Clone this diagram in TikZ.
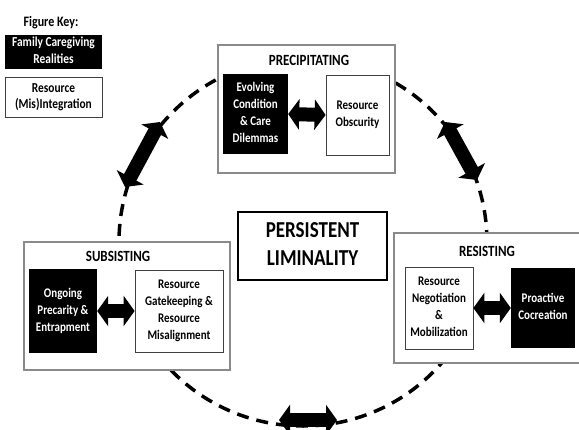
\documentclass[tikz,border=0pt]{standalone}
\usepackage{fontspec}
\setmainfont{Carlito}
\usepackage{graphicx}
\usetikzlibrary{arrows.meta}
\definecolor{framegray}{HTML}{8A8A8A}
\newcommand{\vst}[1]{\scalebox{1}[1.2]{\begin{tabular}{@{}c@{}}#1\end{tabular}}}
\begin{document}
\begin{tikzpicture}[x=1pt,y=-1pt,
  outerbox/.style={draw=framegray, line width=2pt, fill=white, inner sep=0pt},
  darkbox/.style={fill=black, text=white, inner sep=0pt, font=\fontsize{11}{14.2}\selectfont\bfseries},
  lightbox/.style={draw=black!75, line width=0.8pt, fill=white, inner sep=0pt, font=\fontsize{11}{14.2}\selectfont\bfseries},
  keydark/.style={fill=black, text=white, inner sep=0pt, font=\fontsize{11.4}{14}\selectfont\bfseries},
  keylight/.style={draw=black!75, line width=0.8pt, fill=white, inner sep=0pt, font=\fontsize{11.4}{13}\selectfont\bfseries},
  titletext/.style={inner sep=0pt, font=\fontsize{13}{15}\selectfont\bfseries},
  blockarrow/.style={line width=14pt, {Triangle[width=30pt,length=11pt]}-{Triangle[width=30pt,length=11pt]}},
  ring/.style={draw=black, line width=3.5pt, dash pattern=on 12pt off 8pt}
]
\path[use as bounding box] (0,0) rectangle (579,429);
\clip (0,0) rectangle (579,429);

% dashed ring
\node[ring, circle, minimum size=368pt, inner sep=0pt] (ringnode) at (303,242) {};

% key
\node[titletext, font=\fontsize{12}{14}\selectfont\bfseries] (keytitle) at (51,23) {\vst{Figure Key:}};
\node[keydark, minimum width=97pt, minimum height=34pt] (keyfam) at (53.5,52) {\vst{Family Caregiving\\Realities}};
\node[keylight, minimum width=97pt, minimum height=40pt] (keyres) at (53.5,97.5) {\vst{Resource\\(Mis)Integration}};

% precipitating
\node[outerbox, minimum width=177pt, minimum height=128pt] (precip) at (306.5,109) {};
\node[titletext] (preciptitle) at (309,62) {\vst{PRECIPITATING}};
\node[darkbox, minimum width=65pt, minimum height=80pt] (evolving) at (255.5,114) {\vst{Evolving\\Condition\\\& Care\\Dilemmas}};
\node[lightbox, minimum width=63pt, minimum height=80pt] (obscurity) at (357.5,115) {\vst{Resource\\Obscurity}};

% subsisting
\node[outerbox, minimum width=206pt, minimum height=128pt] (subsist) at (127,306) {};
\node[titletext] (subsisttitle) at (118,258) {\vst{SUBSISTING}};
\node[darkbox, minimum width=68pt, minimum height=84pt] (ongoing) at (63,311) {\vst{Ongoing\\Precarity \&\\Entrapment}};
\node[lightbox, minimum width=88pt, minimum height=82pt] (gatekeep) at (179,311) {\vst{Resource\\Gatekeeping \&\\Resource\\Misalignment}};

% resisting
\node[outerbox, minimum width=206pt, minimum height=130pt] (resist) at (497,298) {};
\node[titletext] (resisttitle) at (487,253) {\vst{RESISTING}};
\node[lightbox, minimum width=68pt, minimum height=82pt] (negot) at (439,308) {\vst{Resource\\Negotiation\\\&\\Mobilization}};
\node[darkbox, minimum width=64pt, minimum height=80pt] (proactive) at (543,308) {\vst{Proactive\\Cocreation}};

% centre
\node[draw=black, line width=1.4pt, fill=white, minimum width=149pt, minimum height=68pt, inner sep=0pt,
      font=\fontsize{19}{23.3}\selectfont\bfseries] (liminal) at (312.5,246) {\vst{PERSISTENT\\LIMINALITY}};

% inner arrows
\draw[blockarrow] (evolving.east) -- (obscurity.west);
\draw[blockarrow] (ongoing.east) -- (gatekeep.west);
\draw[blockarrow] (negot.east) -- (proactive.west);

% ring arrows
\coordinate (ula) at (160,122);
\coordinate (ulb) at (125,187);
\coordinate (ura) at (445,122);
\coordinate (urb) at (477,180);
\coordinate (bota) at (279,420);
\coordinate (botb) at (337,420);
\draw[blockarrow] (ula) -- (ulb);
\draw[blockarrow] (ura) -- (urb);
\draw[blockarrow] (bota) -- (botb);
\end{tikzpicture}
\end{document}
